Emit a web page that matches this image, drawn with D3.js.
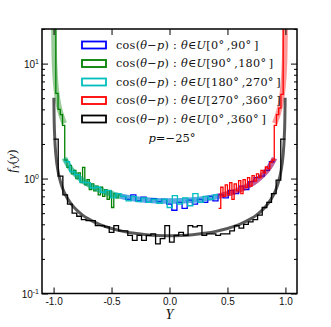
<!DOCTYPE html>
<html>
<head>
<meta charset="utf-8">
<script src="https://cdn.jsdelivr.net/npm/d3@7"></script>
<style>
body{margin:0;background:#fff}
svg{display:block}
.tick text{font-family:"Liberation Sans",Arial,sans-serif;font-size:10px;fill:#111}
.serif{font-family:"Liberation Serif","DejaVu Serif",serif;fill:#111}
.leg{font-family:"DejaVu Serif",serif;fill:#111}
</style>
</head>
<body>
<div id="chart"></div>
<script>
// series order: blue, green, cyan, red, black
var colors = ['#0000ff','#008000','#00bfbf','#ff0000','#000000']
var rangeLo = ['0','90','180','270','0']
var rangeHi = ['90','180','270','360','360']

// histogram bin ranges (Y) and bar heights
var histLo = [-0.423, -1.0, -0.906, 0.423, -1.0]
var histHi = [0.906, -0.423, 0.423, 1.0, 1.0]
var blueHist = [0.70,0.66,0.72,0.64,0.69,0.62,0.67,0.63,0.66,0.60,0.53,0.62,0.55,0.65,0.60,
	0.66,0.62,0.70,0.64,0.72,0.68,0.79,0.74,0.86,0.80,0.94,1.02,1.05,1.18,1.40]
var greenHist = [22,5.5,4.0,3.6,2.9,1.45,1.25,1.30,1.10,1.18,1.00,1.12,0.92,1.25,0.88,
	0.98,0.80,0.90,0.78,0.86,0.72,0.84,0.70,0.80,0.66,0.78,0.56,0.74,0.68,0.72]
var cyanHist = [1.40,1.15,1.08,0.93,0.92,0.83,0.84,0.76,0.79,0.68,0.74,0.70,0.64,0.70,0.63,
	0.68,0.62,0.66,0.61,0.66,0.56,0.71,0.60,0.68,0.58,0.74,0.62,0.70,0.66,0.72]
var redHist = [0.55,0.84,0.70,0.88,0.72,0.92,0.66,0.90,0.78,0.96,0.74,0.98,0.84,1.02,0.86,
	1.06,0.95,1.10,1.02,1.18,1.12,1.26,1.22,1.38,1.45,2.9,3.6,4.1,5.4,22]
var blackHist = [2.2,1.05,0.72,0.60,0.50,0.47,0.44,0.43,0.43,0.39,0.39,0.38,0.34,0.39,0.35,
	0.35,0.32,0.29,0.32,0.29,0.32,0.33,0.27,0.30,0.39,0.28,0.32,0.34,0.32,0.39,
	0.38,0.39,0.32,0.33,0.33,0.32,0.33,0.33,0.35,0.39,0.37,0.40,0.42,0.44,0.48,
	0.56,0.62,0.74,0.97,2.2]

// smooth density curves (null = gap)
var blueCurveY = [-0.423,-0.3,-0.2,-0.1,0,0.1,0.2,0.3,0.4,0.5,0.6,0.7,0.75,0.8,0.85,0.9,0.906]
var blueCurveF = [0.703,0.667,0.650,0.640,0.637,0.640,0.650,0.667,0.695,0.735,0.796,0.891,0.962,1.061,1.208,1.460,1.504]
var greenCurveY = [-0.998,-0.995,-0.99,-0.98,-0.96,-0.94,-0.92,-0.907,-0.9065,-0.906,-0.9,-0.85,-0.8,-0.75,-0.7,-0.6,-0.5,-0.423]
var greenCurveF = [20.1,12.76,9.04,6.40,4.55,3.73,3.25,3.02,null,1.504,1.460,1.208,1.061,0.962,0.891,0.796,0.735,0.703]
var cyanCurveY = [-0.906,-0.9,-0.85,-0.8,-0.75,-0.7,-0.6,-0.5,-0.4,-0.3,-0.2,-0.1,0,0.1,0.2,0.3,0.423]
var cyanCurveF = [1.504,1.460,1.208,1.061,0.962,0.891,0.796,0.735,0.695,0.667,0.650,0.640,0.637,0.640,0.650,0.667,0.703]
var redCurveY = [0.423,0.5,0.6,0.7,0.75,0.8,0.85,0.9,0.906,0.9065,0.907,0.92,0.94,0.96,0.98,0.99,0.995,0.998]
var redCurveF = [0.703,0.735,0.796,0.891,0.962,1.061,1.208,1.460,1.504,null,3.02,3.25,3.73,4.55,6.40,9.04,12.76,20.1]
var blackCurveY = [-0.998,-0.995,-0.99,-0.98,-0.96,-0.94,-0.92,-0.9,-0.85,-0.8,-0.75,-0.7,-0.6,-0.5,-0.4,-0.3,-0.2,-0.1,0,
	0.1,0.2,0.3,0.4,0.5,0.6,0.7,0.75,0.8,0.85,0.9,0.92,0.94,0.96,0.98,0.99,0.995,0.998]
var blackCurveF = [5.04,3.19,2.26,1.60,1.137,0.933,0.812,0.730,0.604,0.531,0.481,0.446,0.398,0.368,0.347,0.334,0.325,0.320,0.318,
	0.320,0.325,0.334,0.347,0.368,0.398,0.446,0.481,0.531,0.604,0.730,0.812,0.933,1.137,1.60,2.26,3.19,5.04]

var xTicks = [-1.0,-0.5,0.0,0.5,1.0]
var yTicks = [0.1,1,10]
var yExps = ['-1','0','1']

var hists = [blueHist,greenHist,cyanHist,redHist,blackHist]
var curvesY = [blueCurveY,greenCurveY,cyanCurveY,redCurveY,blackCurveY]
var curvesF = [blueCurveF,greenCurveF,cyanCurveF,redCurveF,blackCurveF]

var W = 331, H = 327
var m = {l:42, r:297, t:29, b:293.5}

var svg = d3.select('#chart').append('svg')
	.attr('width', W).attr('height', H)

var x = d3.scaleLinear().domain([-1.1,1.1]).range([m.l,m.r])
var y = d3.scaleLog().domain([0.1,20]).range([m.b,m.t])

svg.append('clipPath').attr('id','plot')
	.append('rect').attr('x',m.l).attr('y',m.t).attr('width',m.r-m.l).attr('height',m.b-m.t)

var data = svg.append('g').attr('clip-path','url(#plot)')

var step = d3.line().curve(d3.curveStepAfter).x(d=>x(d[0])).y(d=>y(d[1]))
var smooth = d3.line().curve(d3.curveMonotoneX)
	.defined(d=>d[1]!=null)
	.x(d=>x(d[0])).y(d=>y(d[1]))

for (var i = 0; i < 5; i++){
	var vals = hists[i]
	var n = vals.length
	var w = (histHi[i]-histLo[i])/n
	var pts = vals.map((v,k)=>[histLo[i]+k*w, v])
	pts.push([histHi[i], vals[n-1]])
	data.append('path').attr('d', step(pts))
		.attr('fill','none').attr('stroke',colors[i])
		.attr('stroke-width',1.3)
	var cp = curvesY[i].map((v,k)=>[v, curvesF[i][k]])
	data.append('path').attr('d', smooth(cp))
		.attr('fill','none').attr('stroke',colors[i])
		.attr('stroke-width', i==4 ? 3 : 5.5)
		.attr('stroke-opacity', i==4 ? 0.65 : 0.4)
		.attr('stroke-linecap','butt')
}

// axes, ticks inward
var minor = []
;[0.1,1,10].forEach(d=>{ for (var k=2;k<10;k++) if (d*k<=20) minor.push(d*k) })

svg.append('g').attr('transform','translate(0,'+m.b+')')
	.call(d3.axisBottom(x).tickValues(xTicks).tickSize(-6).tickPadding(4)
		.tickFormat(d=>d3.format('.1f')(d).replace('−','-')))
svg.append('g').attr('transform','translate(0,'+m.t+')')
	.call(d3.axisTop(x).tickValues(xTicks).tickSize(-6).tickFormat(''))
var yl = svg.append('g').attr('transform','translate('+m.l+',0)')
	.call(d3.axisLeft(y).tickValues(yTicks).tickSize(-6).tickPadding(3).tickFormat(''))
svg.append('g').attr('transform','translate('+m.l+',0)')
	.call(d3.axisLeft(y).tickValues(minor).tickSize(-3).tickFormat(''))
svg.append('g').attr('transform','translate('+m.r+',0)')
	.call(d3.axisRight(y).tickValues(yTicks).tickSize(-6).tickFormat(''))
svg.append('g').attr('transform','translate('+m.r+',0)')
	.call(d3.axisRight(y).tickValues(minor).tickSize(-3).tickFormat(''))
svg.selectAll('.domain').remove()
svg.selectAll('.tick line').attr('stroke','#000').attr('stroke-width',1)

yl.selectAll('.tick').each(function(d,k){
	var t = d3.select(this).append('text')
		.attr('x',-3).attr('dy','0.35em').attr('text-anchor','end')
		.style('font-family','"Liberation Sans",Arial,sans-serif').style('font-size','10px').style('fill','#111')
	t.append('tspan').text('10')
	t.append('tspan').attr('dy','-0.45em').style('font-size','7px').text(yExps[k])
})

svg.append('rect').attr('x',m.l).attr('y',m.t).attr('width',m.r-m.l).attr('height',m.b-m.t)
	.attr('fill','none').attr('stroke','#000').attr('stroke-width',1.5)

// axis labels
svg.append('text').attr('class','serif').attr('x',(m.l+m.r)/2).attr('y',319)
	.attr('text-anchor','middle').style('font-size','14px').style('font-style','italic').text('Y')
var yt = svg.append('text').attr('class','serif')
	.attr('transform','translate(16,'+((m.t+m.b)/2)+') rotate(-90)')
	.attr('text-anchor','middle').style('font-size','13px')
yt.append('tspan').style('font-style','italic').text('f')
yt.append('tspan').style('font-style','italic').style('font-size','9px').attr('dy','3').text('Y')
yt.append('tspan').attr('dy','-3').text('(')
yt.append('tspan').style('font-style','italic').text('y')
yt.append('tspan').text(')')

// legend
var leg = svg.append('g')
for (var i = 0; i < 5; i++){
	var ly = 45 + i*18.5
	leg.append('rect').attr('x',82).attr('y',ly-3.5).attr('width',24).attr('height',7)
		.attr('fill','none').attr('stroke',colors[i]).attr('stroke-width',1.8)
	var t = leg.append('text').attr('class','leg').attr('x',116).attr('y',ly+3.8)
		.style('font-size','11.2px').style('letter-spacing','0.3px')
	t.append('tspan').text('cos(')
	t.append('tspan').style('font-style','italic').text('θ')
	t.append('tspan').text('−')
	t.append('tspan').style('font-style','italic').text('p')
	t.append('tspan').text(')  :  ')
	t.append('tspan').style('font-style','italic').text('θ')
	t.append('tspan').text('∈')
	t.append('tspan').style('font-style','italic').text('U')
	t.append('tspan').text('[' + rangeLo[i] + '°\u2009,' + rangeHi[i] + '°\u2009]')
}
var pt = leg.append('text').attr('class','leg').attr('x',172).attr('y',142)
	.attr('text-anchor','middle').style('font-size','11.5px')
pt.append('tspan').style('font-style','italic').text('p')
pt.append('tspan').text('=−25°')
</script>
</body>
</html>
